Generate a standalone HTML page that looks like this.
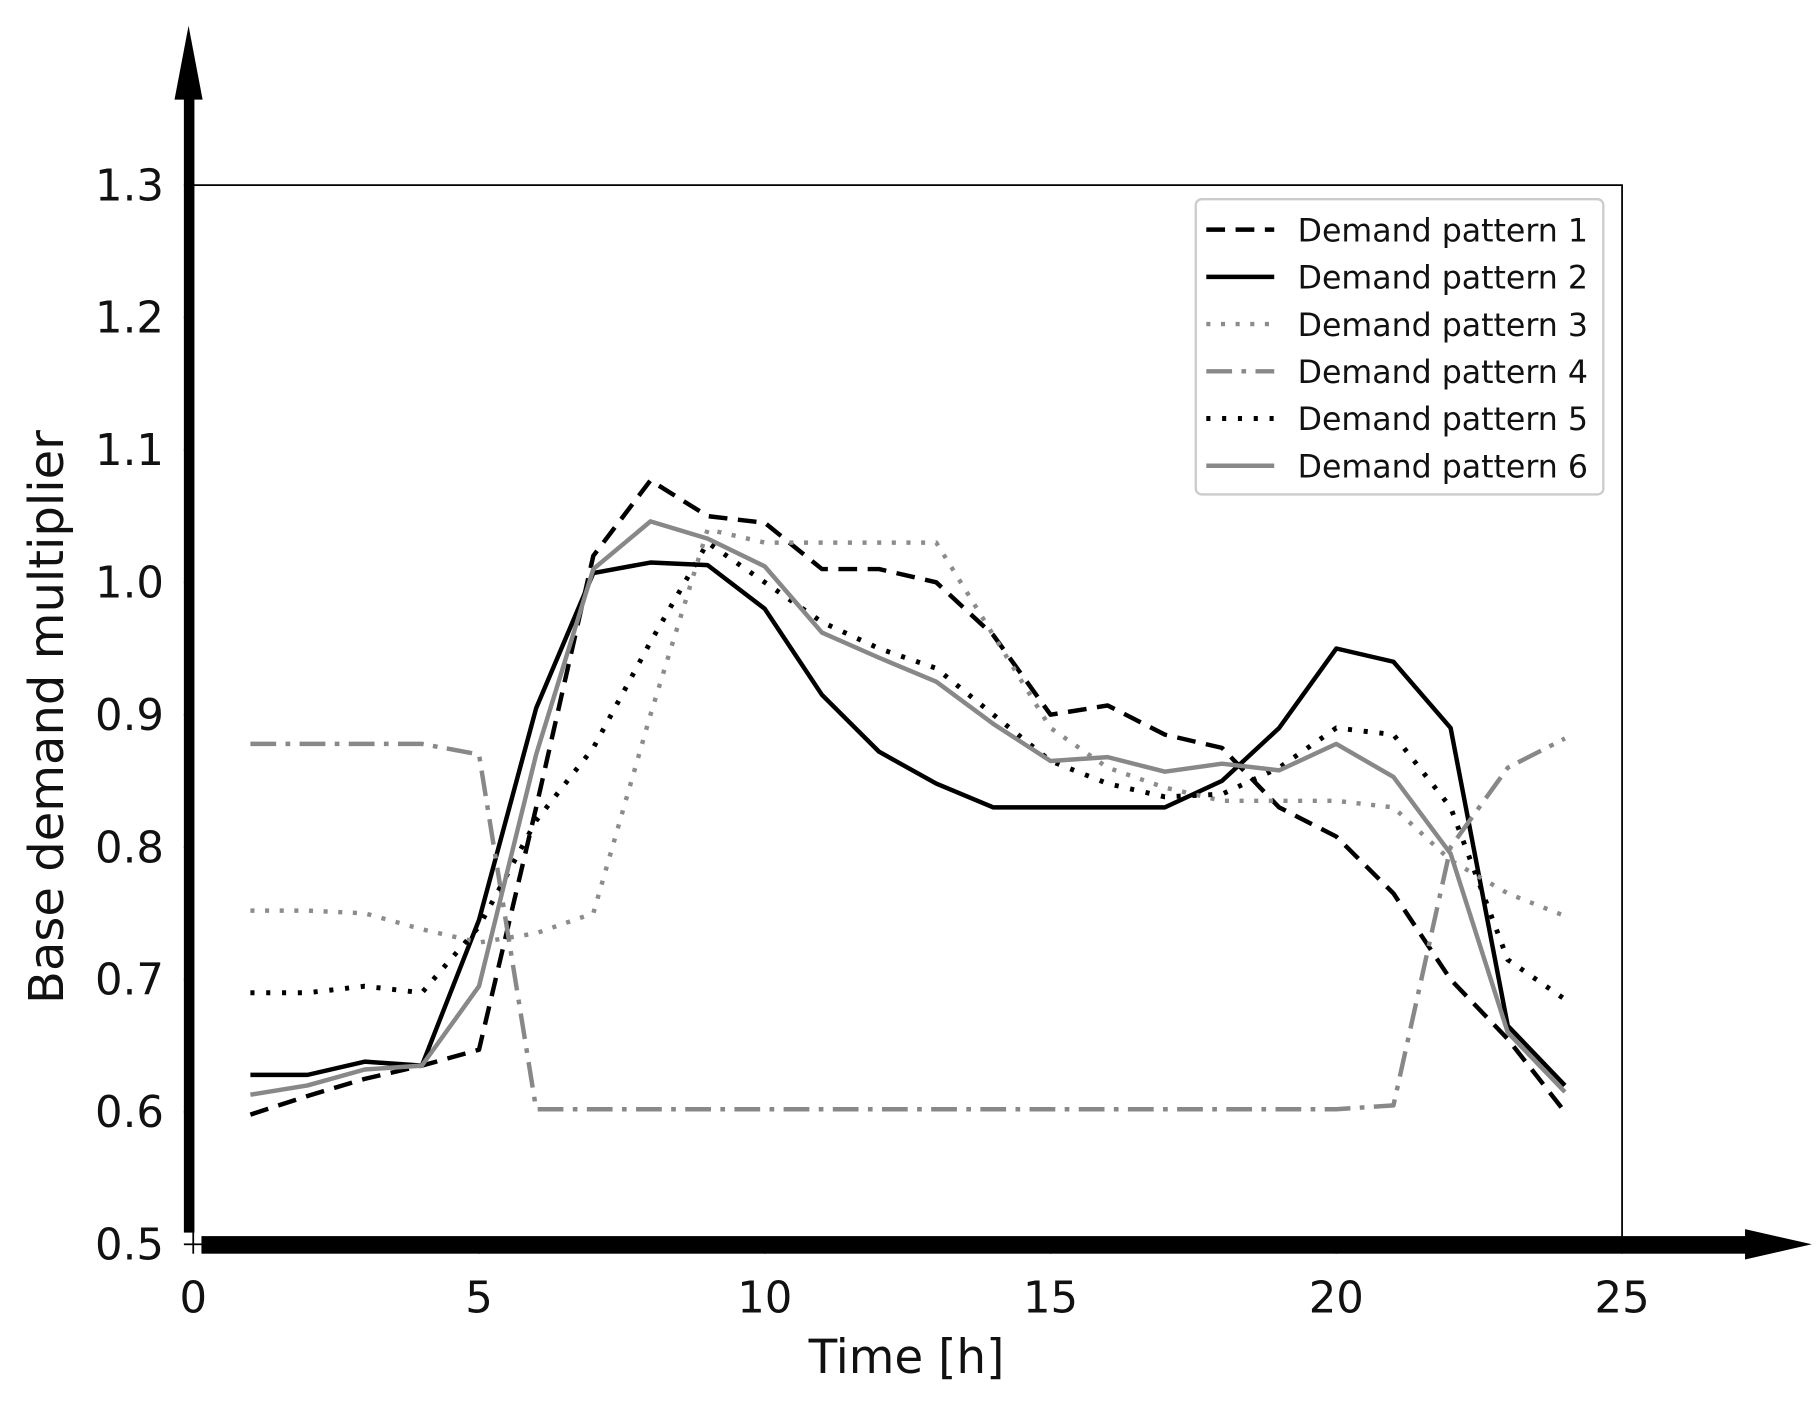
<!DOCTYPE html>
<html><head><meta charset="utf-8"><style>
html,body{margin:0;padding:0;background:#fff}
svg{display:block}
text{font-family:"DejaVu Sans","Liberation Sans",sans-serif}
</style></head><body>
<svg id="chart" width="1820" height="1406" viewBox="0 0 1554 1200" preserveAspectRatio="none" xmlns="http://www.w3.org/2000/svg">
<rect x="0" y="0" width="1554" height="1200" fill="#fff"/>
<rect x="165" y="158" width="1220" height="904" fill="none" stroke="#000" stroke-width="1.5"/>
<g id="series"></g>
<g id="axes"></g>
<g id="legend"></g>
</svg>
<script>
const hours = [1,2,3,4,5,6,7,8,9,10,11,12,13,14,15,16,17,18,19,20,21,22,23,24];
const seriesNames = ["Demand pattern 1","Demand pattern 2","Demand pattern 3","Demand pattern 4","Demand pattern 5","Demand pattern 6"];
const p1 = [0.598,0.612,0.625,0.635,0.647,0.83,1.02,1.077,1.05,1.045,1.01,1.01,1.0,0.96,0.9,0.907,0.885,0.875,0.83,0.808,0.765,0.7,0.655,0.6];
const p2 = [0.628,0.628,0.638,0.635,0.745,0.905,1.007,1.015,1.013,0.98,0.915,0.872,0.848,0.83,0.83,0.83,0.83,0.85,0.89,0.95,0.94,0.89,0.665,0.62];
const p3 = [0.752,0.752,0.75,0.738,0.728,0.735,0.75,0.9,1.04,1.03,1.03,1.03,1.03,0.96,0.89,0.86,0.845,0.835,0.835,0.835,0.83,0.79,0.765,0.748];
const p4 = [0.878,0.878,0.878,0.878,0.87,0.602,0.602,0.602,0.602,0.602,0.602,0.602,0.602,0.602,0.602,0.602,0.602,0.602,0.602,0.602,0.605,0.8,0.86,0.882];
const p5 = [0.69,0.69,0.695,0.69,0.74,0.82,0.875,0.955,1.03,1.0,0.97,0.95,0.935,0.9,0.865,0.848,0.838,0.84,0.86,0.89,0.885,0.83,0.715,0.685];
const p6 = [0.613,0.62,0.632,0.635,0.695,0.87,1.01,1.046,1.033,1.012,0.962,0.943,0.925,0.893,0.865,0.868,0.857,0.863,0.858,0.878,0.853,0.795,0.66,0.615];
const xTicks = [0,5,10,15,20,25];
const yTicks = [0.5,0.6,0.7,0.8,0.9,1.0,1.1,1.2,1.3];

const NS = "http://www.w3.org/2000/svg";
const X0=165, X1=1385, Y0=1062, Y1=158;
function xs(v){return X0+(v-0)/(25-0)*(X1-X0);}
function ys(v){return Y0-(v-0.5)/(1.3-0.5)*(Y0-Y1);}
function mk(tag,attrs,parent){const e=document.createElementNS(NS,tag);for(const k in attrs)e.setAttribute(k,attrs[k]);parent.appendChild(e);return e;}

const styles = [
  {stroke:"#000",w:3.8,dash:"16,9"},
  {stroke:"#000",w:3.8,dash:""},
  {stroke:"#8c8c8c",w:3.8,dash:"3.5,9"},
  {stroke:"#888",w:3.8,dash:"22,8,4,8"},
  {stroke:"#000",w:4.2,dash:"3.5,10"},
  {stroke:"#888",w:3.8,dash:""}
];
const data = [p1,p2,p3,p4,p5,p6];
const sg = document.getElementById('series');
data.forEach((arr,i)=>{
  const d = arr.map((v,j)=>(j?"L":"M")+xs(hours[j]).toFixed(1)+","+ys(v).toFixed(1)).join(" ");
  const p = mk('path',{d:d,fill:"none",stroke:styles[i].stroke,"stroke-width":styles[i].w,"stroke-dasharray":styles[i].dash,"stroke-linejoin":"round"},sg);
  
  
});

const ax = document.getElementById('axes');
yTicks.forEach(v=>{
  const t = mk('text',{x:140,y:ys(v)+13,"text-anchor":"end","font-size":37,fill:"#111"},ax);
  t.textContent = v.toFixed(1);
  
  
  mk('line',{x1:157,x2:165,y1:ys(v),y2:ys(v),stroke:"#000","stroke-width":1.5},ax);
});
xTicks.forEach(v=>{
  const t = mk('text',{x:xs(v),y:1120,"text-anchor":"middle","font-size":37,fill:"#111"},ax);
  t.textContent = v;
  
  
  mk('line',{x1:xs(v),x2:xs(v),y1:1062,y2:1070,stroke:"#000","stroke-width":1.5},ax);
});
const va = mk('g',{},ax);


mk('rect',{x:157,y:70,width:9,height:982,fill:"#000"},va);
mk('polygon',{points:"149,85 161,22 173,85",fill:"#000"},va);
const ha = mk('g',{},ax);


mk('rect',{x:172,y:1055,width:1330,height:15,fill:"#000"},ha);
mk('polygon',{points:"1490,1049 1547,1062 1490,1075",fill:"#000"},ha);

const xt = mk('text',{x:774,y:1172,"text-anchor":"middle","font-size":40,fill:"#111"},ax);
xt.textContent = "Time [h]";


const yt = mk('text',{x:0,y:0,"text-anchor":"middle","font-size":41,fill:"#111",transform:"translate(54,612) rotate(-90)"},ax);
yt.textContent = "Base demand multiplier";



const lg = document.getElementById('legend');
const box = mk('rect',{x:1021,y:170,width:348,height:252,rx:5,fill:"#fff",stroke:"#ccc","stroke-width":2},lg);


seriesNames.forEach((n,i)=>{
  const y = 196+i*40.3;
  const g = mk('g',{},lg);
  
  
  mk('line',{x1:1030,x2:1088,y1:y,y2:y,stroke:styles[i].stroke,"stroke-width":styles[i].w,"stroke-dasharray":styles[i].dash},g);
  const t = mk('text',{x:1108,y:y+10,"font-size":27,fill:"#111"},g);
  t.textContent = n;
});
</script>
</body></html>
